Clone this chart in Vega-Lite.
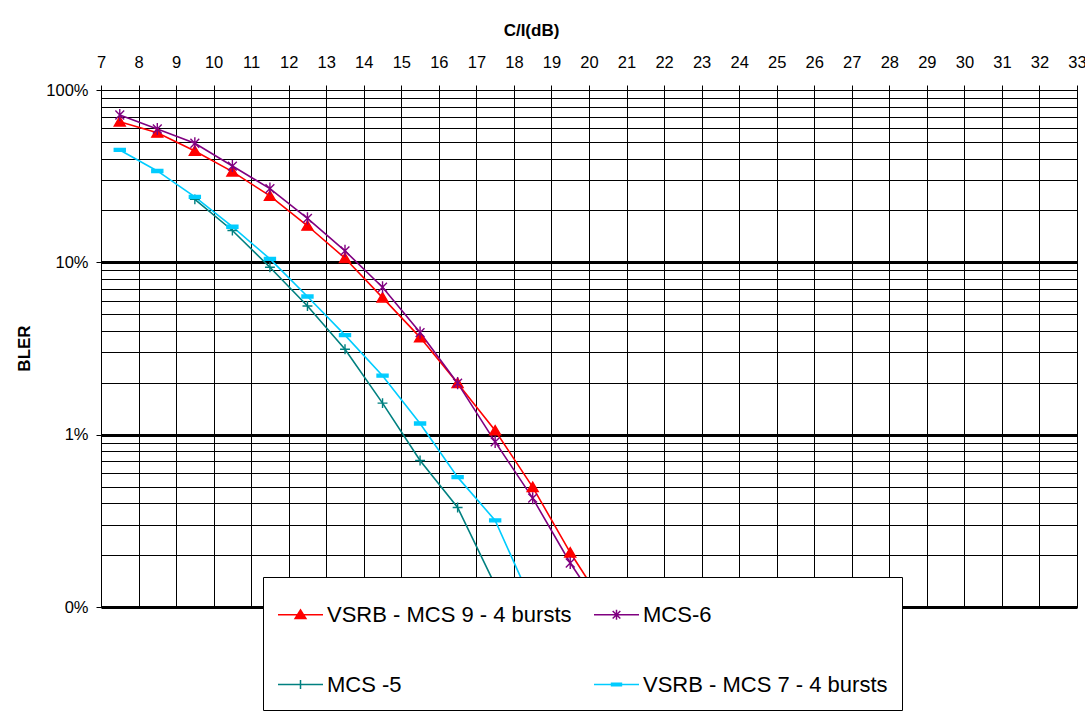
{
  "$schema": "https://vega.github.io/schema/vega-lite/v6.json",
  "width": 976,
  "height": 517,
  "autosize": {"type": "none"},
  "padding": {"left": 101, "top": 90, "right": 8, "bottom": 106},
  "background": "white",
  "config": {
    "view": {"stroke": "#000", "strokeWidth": 1},
    "font": "Liberation Sans"
  },
  "data": {
    "values": [
      {"series": "VSRB - MCS 9 - 4 bursts", "x": 7.5, "y": 0.655},
      {"series": "VSRB - MCS 9 - 4 bursts", "x": 8.5, "y": 0.565},
      {"series": "VSRB - MCS 9 - 4 bursts", "x": 9.5, "y": 0.443},
      {"series": "VSRB - MCS 9 - 4 bursts", "x": 10.5, "y": 0.336},
      {"series": "VSRB - MCS 9 - 4 bursts", "x": 11.5, "y": 0.243},
      {"series": "VSRB - MCS 9 - 4 bursts", "x": 12.5, "y": 0.163},
      {"series": "VSRB - MCS 9 - 4 bursts", "x": 13.5, "y": 0.1056},
      {"series": "VSRB - MCS 9 - 4 bursts", "x": 14.5, "y": 0.0624},
      {"series": "VSRB - MCS 9 - 4 bursts", "x": 15.5, "y": 0.0367},
      {"series": "VSRB - MCS 9 - 4 bursts", "x": 16.5, "y": 0.0199},
      {"series": "VSRB - MCS 9 - 4 bursts", "x": 17.5, "y": 0.01057},
      {"series": "VSRB - MCS 9 - 4 bursts", "x": 18.5, "y": 0.00496},
      {"series": "VSRB - MCS 9 - 4 bursts", "x": 19.5, "y": 0.00207},
      {"series": "VSRB - MCS 9 - 4 bursts", "x": 20.5, "y": 0.00095},
      {"series": "MCS-6", "x": 7.5, "y": 0.716},
      {"series": "MCS-6", "x": 8.5, "y": 0.594},
      {"series": "MCS-6", "x": 9.5, "y": 0.491},
      {"series": "MCS-6", "x": 10.5, "y": 0.362},
      {"series": "MCS-6", "x": 11.5, "y": 0.268},
      {"series": "MCS-6", "x": 12.5, "y": 0.18},
      {"series": "MCS-6", "x": 13.5, "y": 0.1165},
      {"series": "MCS-6", "x": 14.5, "y": 0.0717},
      {"series": "MCS-6", "x": 15.5, "y": 0.0391},
      {"series": "MCS-6", "x": 16.5, "y": 0.0199},
      {"series": "MCS-6", "x": 17.5, "y": 0.00908},
      {"series": "MCS-6", "x": 18.5, "y": 0.00428},
      {"series": "MCS-6", "x": 19.5, "y": 0.0018},
      {"series": "MCS-6", "x": 20.5, "y": 0.00085},
      {"series": "MCS -5", "x": 9.5, "y": 0.232},
      {"series": "MCS -5", "x": 10.5, "y": 0.153},
      {"series": "MCS -5", "x": 11.5, "y": 0.0936},
      {"series": "MCS -5", "x": 12.5, "y": 0.0558},
      {"series": "MCS -5", "x": 13.5, "y": 0.0313},
      {"series": "MCS -5", "x": 14.5, "y": 0.01524},
      {"series": "MCS -5", "x": 15.5, "y": 0.00708},
      {"series": "MCS -5", "x": 16.5, "y": 0.00378},
      {"series": "MCS -5", "x": 17.5, "y": 0.00134},
      {"series": "VSRB - MCS 7 - 4 bursts", "x": 7.5, "y": 0.449},
      {"series": "VSRB - MCS 7 - 4 bursts", "x": 8.5, "y": 0.339},
      {"series": "VSRB - MCS 7 - 4 bursts", "x": 9.5, "y": 0.24},
      {"series": "VSRB - MCS 7 - 4 bursts", "x": 10.5, "y": 0.161},
      {"series": "VSRB - MCS 7 - 4 bursts", "x": 11.5, "y": 0.1047},
      {"series": "VSRB - MCS 7 - 4 bursts", "x": 12.5, "y": 0.0633},
      {"series": "VSRB - MCS 7 - 4 bursts", "x": 13.5, "y": 0.0378},
      {"series": "VSRB - MCS 7 - 4 bursts", "x": 14.5, "y": 0.022},
      {"series": "VSRB - MCS 7 - 4 bursts", "x": 15.5, "y": 0.01161},
      {"series": "VSRB - MCS 7 - 4 bursts", "x": 16.5, "y": 0.00567},
      {"series": "VSRB - MCS 7 - 4 bursts", "x": 17.5, "y": 0.00318},
      {"series": "VSRB - MCS 7 - 4 bursts", "x": 18.5, "y": 0.00104}
    ]
  },
  "encoding": {
    "x": {
      "field": "x",
      "type": "quantitative",
      "scale": {"domain": [7, 33], "nice": false, "zero": false},
      "axis": {
        "orient": "top",
        "values": [7,8,9,10,11,12,13,14,15,16,17,18,19,20,21,22,23,24,25,26,27,28,29,30,31,32,33],
        "format": "d",
        "labelFont": "Liberation Sans",
        "labelFontSize": 16.5,
        "labelColor": "#000",
        "labelBaseline": "alphabetic",
        "labelPadding": 18,
        "labelOverlap": false,
        "labelFlush": false,
        "tickColor": "#000",
        "tickSize": 5,
        "domainColor": "#000",
        "grid": true,
        "gridColor": "#000",
        "gridOpacity": 1,
        "gridWidth": 1,
        "title": "C/I(dB)",
        "titleFont": "Liberation Sans",
        "titleFontSize": 17,
        "titleFontWeight": "bold",
        "titleColor": "#000",
        "titleX": 430,
        "titleY": -60,
        "titleBaseline": "middle",
        "titleAlign": "center"
      }
    },
    "y": {
      "field": "y",
      "type": "quantitative",
      "scale": {"type": "log", "domain": [0.001, 1], "nice": false},
      "axis": {
        "values": [0.001,0.002,0.003,0.004,0.005,0.006,0.007,0.008,0.009,0.01,0.02,0.03,0.04,0.05,0.06,0.07,0.08,0.09,0.1,0.2,0.3,0.4,0.5,0.6,0.7,0.8,0.9,1],
        "labelExpr": "(datum.value == 1 || datum.value == 0.1 || datum.value == 0.01 || datum.value == 0.001) ? format(datum.value, '.0%') : ''",
        "labelFont": "Liberation Sans",
        "labelFontSize": 16.5,
        "labelColor": "#000",
        "labelPadding": 8,
        "labelOverlap": false,
        "labelFlush": false,
        "tickColor": "#000",
        "tickSize": 5,
        "tickOpacity": {"condition": {"test": "datum.value == 1 || datum.value == 0.1 || datum.value == 0.01 || datum.value == 0.001", "value": 1}, "value": 0},
        "domainColor": "#000",
        "grid": true,
        "gridColor": "#000",
        "gridOpacity": 1,
        "gridWidth": {"condition": {"test": "datum.value == 0.1 || datum.value == 0.01 || datum.value == 0.001", "value": 3}, "value": 1},
        "title": "BLER",
        "titleFont": "Liberation Sans",
        "titleFontSize": 17,
        "titleFontWeight": "bold",
        "titleColor": "#000",
        "titleX": -77,
        "titleY": 258,
        "titleAngle": -90,
        "titleBaseline": "middle",
        "titleAlign": "center"
      }
    }
  },
  "layer": [
    {
      "mark": {"type": "line", "clip": true, "strokeWidth": 1.6},
      "encoding": {
        "stroke": {
          "field": "series",
          "type": "nominal",
          "scale": {
            "domain": ["VSRB - MCS 9 - 4 bursts", "MCS -5", "MCS-6", "VSRB - MCS 7 - 4 bursts"],
            "range": ["#FF0000", "#008080", "#800080", "#00CCFF"]
          },
          "legend": {
            "title": null,
            "orient": "none",
            "legendX": 162,
            "legendY": 487,
            "columns": 2,
            "fillColor": "white",
            "strokeColor": "black",
            "padding": 14,
            "symbolSize": 2025,
            "symbolStrokeWidth": 1.5,
            "labelFont": "Liberation Sans",
            "labelFontSize": 22,
            "labelColor": "#000",
            "labelOffset": 3,
            "labelLimit": 0,
            "rowPadding": 35,
            "columnPadding": 19,
            "zindex": 1,
            "encoding": {
              "symbols": {
                "shape": {"value": {"expr": "datum.value == 'MCS-6' ? 'M-1,0H1M-0.17,-0.17L0.17,0.17M-0.17,0.17L0.17,-0.17M0,-0.22V0.22' : datum.value == 'MCS -5' ? 'M-1,0H1M0,-0.2V0.2' : datum.value == 'VSRB - MCS 7 - 4 bursts' ? 'M-1,0H1M-0.22,-0.06H0.22V0.06H-0.22Z' : 'M-1,0H1M0,-0.21L0.24,0.17H-0.24Z'"}},
                "opacity": {"value": 1}
              }
            }
          }
        }
      }
    },
    {
      "mark": {"type": "point", "clip": true, "filled": true, "size": 121, "strokeWidth": 1.4, "opacity": 1},
      "encoding": {
        "fill": {
          "field": "series",
          "type": "nominal",
          "scale": {
            "domain": ["VSRB - MCS 9 - 4 bursts", "MCS -5", "MCS-6", "VSRB - MCS 7 - 4 bursts"],
            "range": ["#FF0000", "#008080", "#800080", "#00CCFF"]
          }
        },
        "stroke": {"field": "series", "type": "nominal"},
        "shape": {
          "field": "series",
          "type": "nominal",
          "legend": null,
          "scale": {
            "domain": ["MCS-6", "MCS -5", "VSRB - MCS 9 - 4 bursts", "VSRB - MCS 7 - 4 bursts"],
            "range": [
              "M-0.8,-0.8L0.8,0.8M-0.8,0.8L0.8,-0.8M0,-1.1L0,1.1",
              "M-0.9,0H0.9M0,-0.9V0.9",
              "M0,-0.9L1,0.8L-1,0.8Z",
              "M-1,-0.27H1V0.27H-1Z"
            ]
          }
        }
      }
    }
  ]
}
